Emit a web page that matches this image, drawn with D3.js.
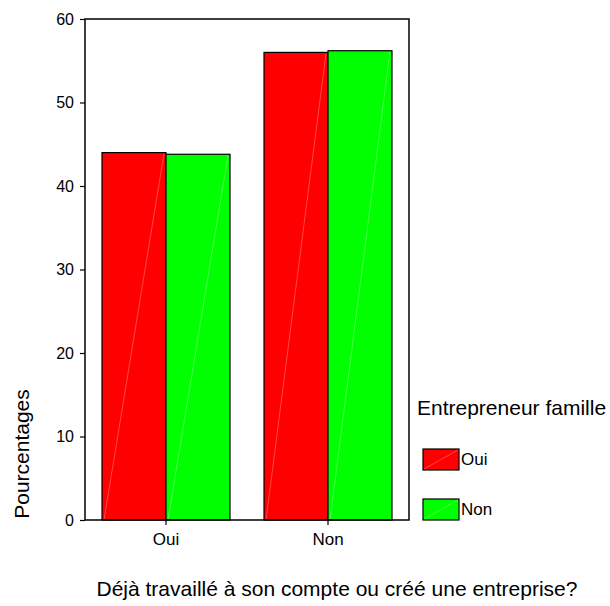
<!DOCTYPE html>
<html><head><meta charset="utf-8">
<script src="https://cdn.jsdelivr.net/npm/d3@7"></script>
<style>body{margin:0;background:#fff}svg{display:block}text{font-family:"Liberation Sans",Arial,sans-serif;fill:#000}</style>
</head><body>
<script>
const categories = ["Oui", "Non"];
const seriesNames = ["Oui", "Non"];
const seriesColors = ["#ff0000", "#00ff00"];
const valuesOui = [44.0, 56.0];
const valuesNon = [43.8, 56.2];
const yTicks = [0, 10, 20, 30, 40, 50, 60];
const xTitle = "Déjà travaillé à son compte ou créé une entreprise?";
const yTitle = "Pourcentages";
const legendTitle = "Entrepreneur famille";

const W = 610, H = 606;
const m = {left: 85, top: 19, right: 409, bottom: 520};
const svg = d3.select("body").append("svg").attr("width", W).attr("height", H);

const x = d3.scaleBand().domain(categories).range([m.left, m.right]).paddingInner(0.21).paddingOuter(0.105);
const xs = d3.scaleBand().domain(seriesNames).range([0, x.bandwidth()]);
const y = d3.scaleLinear().domain([0, 60]).range([m.bottom, m.top]);

const series = [valuesOui, valuesNon];
const g = svg.append("g");
series.forEach((vals, si) => {
  categories.forEach((c, ci) => {
    const x0 = x(c) + xs(seriesNames[si]);
    const w = xs.bandwidth();
    const y0 = y(vals[ci]);
    g.append("rect").attr("x", x0).attr("y", y0).attr("width", w).attr("height", y(0) - y0)
      .attr("fill", seriesColors[si]).attr("stroke", "#000").attr("stroke-width", 1.2);
    g.append("line").attr("x1", x0 + 2).attr("y1", y(0)).attr("x2", x0 + w - 2).attr("y2", y0 + 1)
      .attr("stroke", "#fff").attr("stroke-opacity", 0.35).attr("stroke-width", 0.8);
  });
});

svg.append("rect").attr("x", m.left).attr("y", m.top).attr("width", m.right - m.left).attr("height", m.bottom - m.top)
  .attr("fill", "none").attr("stroke", "#000").attr("stroke-width", 1.5);

const yAxis = svg.append("g").attr("transform", `translate(${m.left},0)`)
  .call(d3.axisLeft(y).tickValues(yTicks).tickSize(5).tickPadding(6).tickFormat(d3.format("d")));
yAxis.select(".domain").remove();
yAxis.selectAll("line").attr("stroke-width", 1.2);
yAxis.selectAll("text").style("font-size", "16px").attr("font-family", null);

const xAxis = svg.append("g").attr("transform", `translate(0,${m.bottom})`)
  .call(d3.axisBottom(x).tickSize(5).tickPadding(8));
xAxis.select(".domain").remove();
xAxis.selectAll("line").attr("stroke-width", 1.2);
xAxis.selectAll("text").style("font-size", "17px").attr("font-family", null);

svg.append("text").attr("x", 337).attr("y", 596).attr("text-anchor", "middle").style("font-size", "21px").text(xTitle);
svg.append("text").attr("transform", "translate(29,454) rotate(-90)").attr("text-anchor", "middle").style("font-size", "21px").text(yTitle);
svg.append("text").attr("x", 417).attr("y", 415).style("font-size", "21px").text(legendTitle);
seriesNames.forEach((s, i) => {
  const ly = 449 + i * 50;
  svg.append("rect").attr("x", 423).attr("y", ly).attr("width", 36).attr("height", 21)
    .attr("fill", seriesColors[i]).attr("stroke", "#000").attr("stroke-width", 1.2);
  svg.append("line").attr("x1", 424).attr("y1", ly + 20).attr("x2", 458).attr("y2", ly + 1)
    .attr("stroke", "#fff").attr("stroke-opacity", 0.35).attr("stroke-width", 0.8);
  svg.append("text").attr("x", 461).attr("y", ly + 16).style("font-size", "17px").text(s);
});
</script>
</body></html>
